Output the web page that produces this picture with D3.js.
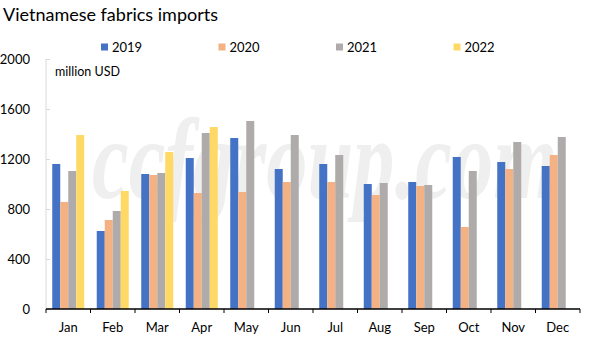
<!DOCTYPE html>
<html><head><meta charset="utf-8">
<script src="https://cdn.jsdelivr.net/npm/d3@7"></script>
<style>
html,body{margin:0;padding:0;background:#fff;}
svg{display:block;font-family:Lato,"Open Sans",sans-serif;}
</style></head>
<body>
<svg id="chart" width="605" height="340"></svg>
<script>
const months = ["Jan","Feb","Mar","Apr","May","Jun","Jul","Aug","Sep","Oct","Nov","Dec"];
const seriesNames = ["2019","2020","2021","2022"];
const colors = ["#4472C4","#F4B183","#AFABAB","#FFD966"];
const v2019 = [1160,624,1080,1208,1368,1120,1160,1000,1016,1216,1176,1144];
const v2020 = [856,712,1072,928,936,1016,1016,912,984,656,1120,1232];
const v2021 = [1104,784,1088,1408,1504,1392,1232,1008,992,1104,1336,1376];
const v2022 = [1392,944,1256,1456,null,null,null,null,null,null,null,null];
const yTicks = [0,400,800,1200,1600,2000];
const seriesValues = [v2019,v2020,v2021,v2022];

const svg = d3.select("#chart");
const x0 = d3.scaleBand().domain(months).range([46,580]).paddingInner(0).paddingOuter(0);
const x1 = d3.scaleBand().domain(seriesNames).range([6.25, x0.bandwidth()-6.25]);
const y = d3.scaleLinear().domain([0,2000]).range([309,59]);

// title
svg.append("text").attr("x",3).attr("y",21).attr("font-size",18).attr("fill","#000")
  .text("Vietnamese fabrics imports");

// watermark
svg.append("text").attr("transform","translate(92,198) scale(1.3,1.3)")
  .attr("font-family","'Liberation Serif','DejaVu Serif',serif").attr("font-style","italic")
  .attr("font-weight","bold")
  .attr("font-size",88).attr("fill","#efefef")
  .attr("textLength",358).attr("lengthAdjust","spacingAndGlyphs")
  .text("ccfgroup.com");

// y axis
const yAxis = d3.axisRight(y).tickValues(yTicks).tickSize(4).tickFormat("");
const gy = svg.append("g").attr("transform","translate(46,0)").call(yAxis);
gy.select(".domain").attr("stroke","#d9d9d9").attr("d","M0,59V309");
gy.selectAll(".tick line").attr("stroke","#d9d9d9");
svg.append("g").selectAll("text").data(yTicks).join("text")
  .attr("x",30).attr("y",d=>y(d)).attr("dy","0.35em").attr("text-anchor","end")
  .attr("font-size",13).attr("fill","#000").text(d=>d);

// unit
svg.append("text").attr("x",55).attr("y",76).attr("font-size",12.5).attr("fill","#000").text("million  USD");

// bars
const groups = svg.append("g").selectAll("g").data(months).join("g")
  .attr("transform",d=>`translate(${x0(d)},0)`);
groups.selectAll("rect").data((m,i)=>seriesNames.map((s,j)=>({s,j,v:seriesValues[j][i]})).filter(d=>d.v!=null))
  .join("rect")
  .attr("x",d=>x1(d.s)).attr("width",x1.bandwidth())
  .attr("y",d=>y(d.v)).attr("height",d=>y(0)-y(d.v))
  .attr("fill",d=>colors[d.j]);

// x axis
const gx = svg.append("g").attr("transform","translate(0,309)");
gx.append("line").attr("x1",46).attr("x2",580).attr("stroke","#000").attr("stroke-width",1.3);
const edges = months.map(m=>x0(m)).concat([580]);
gx.selectAll("line.t").data(edges).join("line").attr("class","t")
  .attr("x1",d=>d).attr("x2",d=>d).attr("y1",0).attr("y2",4).attr("stroke","#000");
gx.selectAll("text").data(months).join("text")
  .attr("x",d=>x0(d)+x0.bandwidth()/2).attr("y",18).attr("dy","0.35em")
  .attr("text-anchor","middle").attr("font-size",13).attr("fill","#000").text(d=>d);

// legend
const lg = svg.append("g").selectAll("g").data(seriesNames).join("g")
  .attr("transform",(d,i)=>`translate(${101+i*117.5},43)`);
lg.append("rect").attr("width",7).attr("height",7).attr("y",0.5).attr("fill",(d,i)=>colors[i]);
lg.append("text").attr("x",11).attr("y",4).attr("dy","0.35em").attr("font-size",13).attr("fill","#000").text(d=>d);
</script>
</body></html>
